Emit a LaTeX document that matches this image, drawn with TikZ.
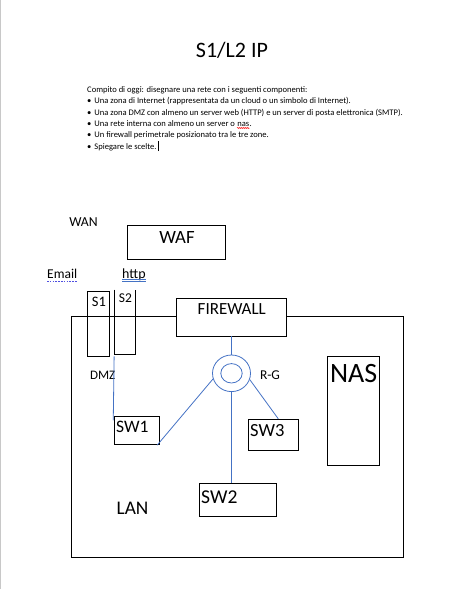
\documentclass[tikz,border=0pt]{standalone}
\usepackage{fontspec}
\setmainfont{Carlito}
\usetikzlibrary{calc,positioning,shapes.geometric,decorations.pathmorphing}
\definecolor{wireblue}{HTML}{4472C4}
\definecolor{spellblue}{HTML}{4F4FE0}
\definecolor{pagegray}{HTML}{C8C8C8}
\newcommand{\fsz}[1]{\fontsize{#1}{#1}\selectfont}

\begin{document}
\begin{tikzpicture}[x=1pt, y=-1pt,
    box/.style={draw, line width=0.9pt, inner sep=0pt},
    wire/.style={wireblue, line width=0.8pt},
    txt/.style={inner sep=0pt, anchor=base west, font=\fsz{8.55}},
    tag/.style={inner sep=0pt, anchor=base}]
  \useasboundingbox (0,0) rectangle (462,589);
  % page edge
  \draw[pagegray, line width=1pt] (0.5,0) -- (0.5,589);
  % title
  \node[tag, font=\fsz{22}] (title) at (232,57) {S1/L2 IP};
  % assignment
  \node[txt] (l1) at (87,92.5) {Compito di oggi: disegnare una rete con i seguenti componenti:};
  \node[txt] (l2) at (87,103.8) {\textbullet\hspace{3pt}Una zona di Internet (rappresentata da un cloud o un simbolo di Internet).};
  \node[txt] (l3) at (87,115.1) {\textbullet\hspace{3pt}Una zona DMZ con almeno un server web (HTTP) e un server di posta elettronica (SMTP).};
  \node[txt] (l4) at (87,126.4) {\textbullet\hspace{3pt}Una rete interna con almeno un server o};
  \node[txt] (nas) at ($(l4.base east)+(1.9,0)$) {nas};
  \node[txt] (nasdot) at (nas.base east) {.};
  \node[txt] (l5) at (87,137.7) {\textbullet\hspace{3pt}Un firewall perimetrale posizionato tra le tre zone.};
  \node[txt] (l6) at (87,149) {\textbullet\hspace{3pt}Spiegare le scelte.};
  \draw[red, line width=0.5pt, decorate, decoration={snake, amplitude=0.6pt, segment length=2pt}]
    ($(nas.base west)+(0,1.6)$) -- ($(nas.base east)+(0,1.6)$);
  \draw[line width=0.5pt] ($(l6.base east)+(1,2)$) -- ++(0,-10);
  % WAN side
  \node[tag, font=\fsz{13.7}] (wan) at (83.5,226) {WAN};
  \node[box, minimum width=98pt, minimum height=34pt] (waf) at (176,242) {};
  \node[tag, font=\fsz{18.7}] (waftxt) at (177,243) {WAF};
  \node[txt, font=\fsz{13.5}] (email) at (47,278) {Email};
  \node[txt, font=\fsz{14}] (http) at (122,278) {http};
  \draw[spellblue, line width=1.5pt, dash pattern=on 1.5pt off 1.3pt]
    ($(email.base west)+(0,3.5)$) -- ($(email.base east)+(0,3.5)$);
  \draw[wireblue, line width=0.6pt] ($(http.base west)+(0,1.6)$) -- ($(http.base east)+(0,1.6)$);
  \draw[wireblue, line width=0.6pt] ($(http.base west)+(0,3.6)$) -- ($(http.base east)+(0,3.6)$);
  % LAN frame
  \draw[box] (71,316) rectangle (403,557);
  % DMZ servers
  \node[box, minimum width=22pt, minimum height=65pt] (s1) at (98.3,323.5) {};
  \node[tag, font=\fsz{14.5}] (s1txt) at (99,306) {S1};
  \node[box, draw=none, minimum width=20pt, minimum height=64pt] (s2) at (125.3,322) {};
  \draw[box] (s2.north west) -- (s2.south west) -- (s2.south east) -- (s2.north east);
  \node[tag, font=\fsz{13.5}] (s2txt) at (125.5,302) {S2};
  \node[tag, font=\fsz{13}] (dmz) at (102.7,379.3) {DMZ};
  % firewall and router
  \node[box, fill=white, minimum width=110pt, minimum height=38pt] (fw) at (231.5,317) {};
  \node[tag, font=\fsz{17}] (fwtxt) at (231.8,314) {FIREWALL};
  \node[ellipse, draw=wireblue, line width=0.8pt, inner sep=0pt, minimum width=38pt, minimum height=36.6pt] (rg) at (231.5,373.3) {};
  \draw[wire] (rg.center) ellipse (10.7 and 9.7);
  \node[tag, font=\fsz{13.5}] (rgtxt) at (270,379.3) {R-G};
  % switches
  \node[box, minimum width=45.4pt, minimum height=28.4pt] (sw1) at (137,430.5) {};
  \node[txt, font=\fsz{17.5}] (sw1txt) at (116,432.7) {SW1};
  \node[box, minimum width=77pt, minimum height=33pt] (sw2) at (237.8,499.8) {};
  \node[txt, font=\fsz{19.6}] (sw2txt) at (201,503.3) {SW2};
  \node[box, minimum width=50pt, minimum height=31pt] (sw3) at (273.3,434.8) {};
  \node[txt, font=\fsz{18.5}] (sw3txt) at (250,436.7) {SW3};
  % NAS
  \node[box, minimum width=52pt, minimum height=109pt] (nasbox) at (353.3,410.8) {};
  \node[tag, font=\fsz{28}] (nastxt) at (353.7,382.7) {NAS};
  \node[txt, font=\fsz{19.3}] (lan) at (116.5,514) {LAN};
  % links
  \draw[wire] (fw) -- (rg);
  \draw[wire] (rg.south) -- (rg.south |- sw2.north);
  \draw[wire] (rg.197) -- ($(sw1.south east)+(-3,0)$);
  \draw[wire] (rg.-19) -- ($(sw3.north)+(5,0)$);
  \draw[wire] ($(s1.south east)+(4.4,0)$) -- ($(sw1.north west)+(-0.6,4.4)$);
\end{tikzpicture}
\end{document}
